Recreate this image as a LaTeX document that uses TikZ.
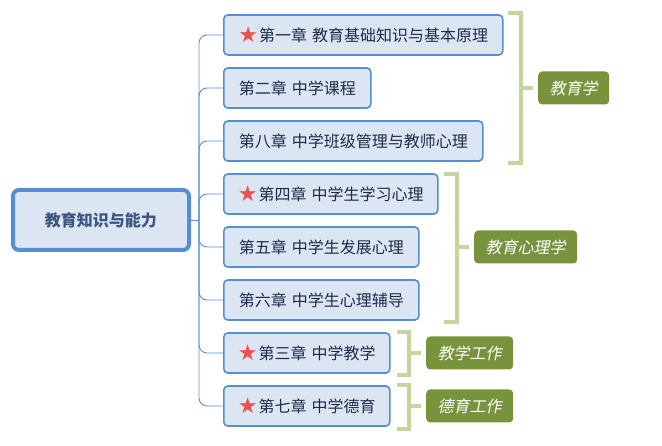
\documentclass[tikz,border=0pt]{standalone}
\usepackage{fontspec}
\setmainfont[WordSpace=1.4]{Noto Sans CJK SC}
\newfontfamily\cjkit[FakeSlant=0.2]{Noto Sans CJK SC}
\newfontfamily\symf{DejaVu Sans}
\definecolor{boxfill}{HTML}{DCE6F2}
\definecolor{boxline}{HTML}{558ED5}
\definecolor{linkc}{HTML}{5B8ED6}
\definecolor{txt}{HTML}{1B2B4B}
\definecolor{roottxt}{HTML}{3D5582}
\definecolor{starred}{HTML}{EE5050}
\definecolor{brk}{HTML}{C4D79B}
\definecolor{olive}{HTML}{77933C}
\newcommand{\redstar}{\raisebox{-1.5pt}{\symf\fontsize{22}{22}\selectfont\textcolor{starred}{★}}\hspace{1pt}}
\begin{document}
\begin{tikzpicture}[x=1pt,y=-1pt,
  chap/.style={draw=boxline, line width=1.6pt, fill=boxfill, rounded corners=4pt,
    minimum height=40pt, inner sep=0pt, text=txt, anchor=west,
    font=\fontsize{16}{16}\selectfont},
  rootbox/.style={draw=boxline, line width=4pt, fill=boxfill, rounded corners=6pt,
    minimum width=176pt, minimum height=60pt, inner sep=0pt, text=roottxt,
    font=\fontsize{16}{16}\selectfont\bfseries},
  cat/.style={fill=olive, rounded corners=4pt, text=white, inner sep=0pt,
    minimum height=33pt, anchor=west, font=\fontsize{16}{16}\selectfont\cjkit},
  link/.style={draw=linkc, line width=0.9pt, rounded corners=8pt},
  brace/.style={draw=brk, line width=4.5pt}
]
\useasboundingbox (0,0) rectangle (662,446);

\node[rootbox] (root) at (101,220) {教育知识与能力};
\coordinate (j) at (199,220);

\node[chap, minimum width=279pt] (c1) at (223,35) {\redstar 第一章 教育基础知识与基本原理};
\node[chap, minimum width=147pt] (c2) at (223,88) {第二章 中学课程};
\node[chap, minimum width=259pt] (c3) at (223,141) {第八章 中学班级管理与教师心理};
\node[chap, minimum width=214pt] (c4) at (223,194) {\redstar 第四章 中学生学习心理};
\node[chap, minimum width=195pt] (c5) at (223,247) {第五章 中学生发展心理};
\node[chap, minimum width=195pt] (c6) at (223,300) {第六章 中学生心理辅导};
\node[chap, minimum width=166pt] (c7) at (223,353) {\redstar 第三章 中学教学};
\node[chap, minimum width=166pt] (c8) at (223,406) {\redstar 第七章 中学德育};

\draw[draw=linkc, line width=0.9pt] (root.east) -- (j);
\foreach \c in {c1,c2,c3,c4,c5,c6,c7,c8}{
  \draw[link] (j) |- (\c.west);
}

% brackets
\coordinate (b1t) at (508,13);
\coordinate (b1b) at (508,163);
\coordinate (b1m) at (533,88);
\draw[brace] (b1t) -- (521,13) -- (521,163) -- (b1b);
\draw[brace] (521,88) -- (b1m);
\node[cat, minimum width=71pt] (k1) at (538,88) {教育学};

\coordinate (b2t) at (444,174);
\coordinate (b2b) at (444,322);
\coordinate (b2m) at (469,247);
\draw[brace] (b2t) -- (457,174) -- (457,322) -- (b2b);
\draw[brace] (457,247) -- (b2m);
\node[cat, minimum width=103pt] (k2) at (474,247) {教育心理学};

\coordinate (b3t) at (397,332);
\coordinate (b3b) at (397,375);
\coordinate (b3m) at (421,353);
\draw[brace] (b3t) -- (409,332) -- (409,375) -- (b3b);
\draw[brace] (409,353) -- (b3m);
\node[cat, minimum width=87pt] (k3) at (426,353) {教学工作};

\coordinate (b4t) at (397,385);
\coordinate (b4b) at (397,429);
\coordinate (b4m) at (421,406);
\draw[brace] (b4t) -- (409,385) -- (409,429) -- (b4b);
\draw[brace] (409,406) -- (b4m);
\node[cat, minimum width=87pt] (k4) at (426,406) {德育工作};
\end{tikzpicture}
\end{document}
